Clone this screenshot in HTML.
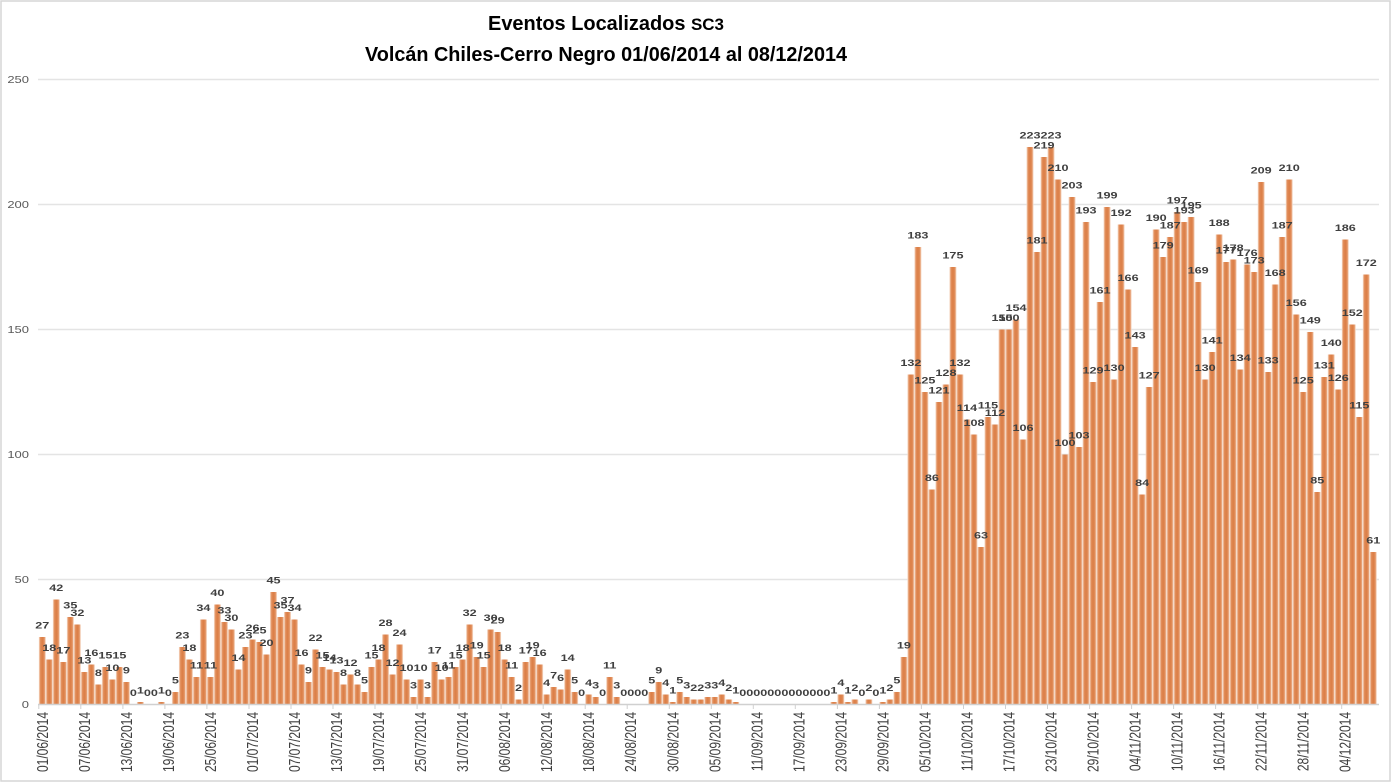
<!DOCTYPE html>
<html><head><meta charset="utf-8"><style>html,body{margin:0;padding:0;background:#fff}svg{display:block}</style></head>
<body>
<svg width="1392" height="784" viewBox="0 0 1392 784" xmlns="http://www.w3.org/2000/svg" font-family="'Liberation Sans', Arial, sans-serif">
<defs>
<linearGradient id="bg" x1="0" y1="0" x2="1" y2="0">
<stop offset="0" stop-color="#f8e4d6"/>
<stop offset="0.22" stop-color="#e28f5c"/>
<stop offset="0.5" stop-color="#db7e46"/>
<stop offset="0.78" stop-color="#e28f5c"/>
<stop offset="1" stop-color="#f8e4d6"/>
</linearGradient>
</defs>
<rect x="0" y="0" width="1392" height="784" fill="#fff"/>
<rect x="1" y="1" width="1389" height="780" fill="none" stroke="#d6d6d6" stroke-width="1.5"/>
<!-- title -->
<text x="606" y="30" text-anchor="middle" font-size="20" font-weight="bold" fill="#000" textLength="236" lengthAdjust="spacingAndGlyphs">Eventos Localizados <tspan font-size="17">SC3</tspan></text>
<text x="606" y="61" text-anchor="middle" font-size="20" font-weight="bold" fill="#000" textLength="482" lengthAdjust="spacingAndGlyphs">Volcán Chiles-Cerro Negro 01/06/2014 al 08/12/2014</text>
<!-- gridlines -->
<g stroke="#e4e4e4" stroke-width="1.5">
<line x1="38" y1="79.5" x2="1379" y2="79.5"/>
<line x1="38" y1="204.5" x2="1379" y2="204.5"/>
<line x1="38" y1="329.5" x2="1379" y2="329.5"/>
<line x1="38" y1="454.5" x2="1379" y2="454.5"/>
<line x1="38" y1="579.5" x2="1379" y2="579.5"/>
</g>
<!-- y labels -->
<g font-size="10" fill="#595959" text-anchor="end">
<text transform="translate(29,83.2) scale(1.3,1)">250</text>
<text transform="translate(29,208.2) scale(1.3,1)">200</text>
<text transform="translate(29,333.2) scale(1.3,1)">150</text>
<text transform="translate(29,458.2) scale(1.3,1)">100</text>
<text transform="translate(29,583.2) scale(1.3,1)">50</text>
<text transform="translate(29,708.2) scale(1.3,1)">0</text>
</g>
<!-- bars -->
<g transform="translate(38.7975,704.5) scale(7.005,-2.5)" fill="url(#bg)">
<rect x="0" width="1" height="27"/><rect x="1" width="1" height="18"/><rect x="2" width="1" height="42"/><rect x="3" width="1" height="17"/><rect x="4" width="1" height="35"/><rect x="5" width="1" height="32"/><rect x="6" width="1" height="13"/><rect x="7" width="1" height="16"/><rect x="8" width="1" height="8"/><rect x="9" width="1" height="15"/><rect x="10" width="1" height="10"/><rect x="11" width="1" height="15"/><rect x="12" width="1" height="9"/><rect x="14" width="1" height="1"/><rect x="17" width="1" height="1"/><rect x="19" width="1" height="5"/><rect x="20" width="1" height="23"/><rect x="21" width="1" height="18"/><rect x="22" width="1" height="11"/><rect x="23" width="1" height="34"/><rect x="24" width="1" height="11"/><rect x="25" width="1" height="40"/><rect x="26" width="1" height="33"/><rect x="27" width="1" height="30"/><rect x="28" width="1" height="14"/><rect x="29" width="1" height="23"/>
<rect x="30" width="1" height="26"/><rect x="31" width="1" height="25"/><rect x="32" width="1" height="20"/><rect x="33" width="1" height="45"/><rect x="34" width="1" height="35"/><rect x="35" width="1" height="37"/><rect x="36" width="1" height="34"/><rect x="37" width="1" height="16"/><rect x="38" width="1" height="9"/><rect x="39" width="1" height="22"/><rect x="40" width="1" height="15"/><rect x="41" width="1" height="14"/><rect x="42" width="1" height="13"/><rect x="43" width="1" height="8"/><rect x="44" width="1" height="12"/><rect x="45" width="1" height="8"/><rect x="46" width="1" height="5"/><rect x="47" width="1" height="15"/><rect x="48" width="1" height="18"/><rect x="49" width="1" height="28"/><rect x="50" width="1" height="12"/><rect x="51" width="1" height="24"/><rect x="52" width="1" height="10"/><rect x="53" width="1" height="3"/><rect x="54" width="1" height="10"/><rect x="55" width="1" height="3"/><rect x="56" width="1" height="17"/><rect x="57" width="1" height="10"/><rect x="58" width="1" height="11"/><rect x="59" width="1" height="15"/><rect x="60" width="1" height="18"/>
<rect x="61" width="1" height="32"/><rect x="62" width="1" height="19"/><rect x="63" width="1" height="15"/><rect x="64" width="1" height="30"/><rect x="65" width="1" height="29"/><rect x="66" width="1" height="18"/><rect x="67" width="1" height="11"/><rect x="68" width="1" height="2"/><rect x="69" width="1" height="17"/><rect x="70" width="1" height="19"/><rect x="71" width="1" height="16"/><rect x="72" width="1" height="4"/><rect x="73" width="1" height="7"/><rect x="74" width="1" height="6"/><rect x="75" width="1" height="14"/><rect x="76" width="1" height="5"/><rect x="78" width="1" height="4"/><rect x="79" width="1" height="3"/><rect x="81" width="1" height="11"/><rect x="82" width="1" height="3"/><rect x="87" width="1" height="5"/><rect x="88" width="1" height="9"/><rect x="89" width="1" height="4"/><rect x="90" width="1" height="1"/><rect x="91" width="1" height="5"/>
<rect x="92" width="1" height="3"/><rect x="93" width="1" height="2"/><rect x="94" width="1" height="2"/><rect x="95" width="1" height="3"/><rect x="96" width="1" height="3"/><rect x="97" width="1" height="4"/><rect x="98" width="1" height="2"/><rect x="99" width="1" height="1"/><rect x="113" width="1" height="1"/><rect x="114" width="1" height="4"/><rect x="115" width="1" height="1"/><rect x="116" width="1" height="2"/><rect x="118" width="1" height="2"/><rect x="120" width="1" height="1"/><rect x="121" width="1" height="2"/>
<rect x="122" width="1" height="5"/><rect x="123" width="1" height="19"/><rect x="124" width="1" height="132"/><rect x="125" width="1" height="183"/><rect x="126" width="1" height="125"/><rect x="127" width="1" height="86"/><rect x="128" width="1" height="121"/><rect x="129" width="1" height="128"/><rect x="130" width="1" height="175"/><rect x="131" width="1" height="132"/><rect x="132" width="1" height="114"/><rect x="133" width="1" height="108"/><rect x="134" width="1" height="63"/><rect x="135" width="1" height="115"/><rect x="136" width="1" height="112"/><rect x="137" width="1" height="150"/><rect x="138" width="1" height="150"/><rect x="139" width="1" height="154"/><rect x="140" width="1" height="106"/><rect x="141" width="1" height="223"/><rect x="142" width="1" height="181"/><rect x="143" width="1" height="219"/><rect x="144" width="1" height="223"/><rect x="145" width="1" height="210"/><rect x="146" width="1" height="100"/><rect x="147" width="1" height="203"/><rect x="148" width="1" height="103"/><rect x="149" width="1" height="193"/><rect x="150" width="1" height="129"/><rect x="151" width="1" height="161"/><rect x="152" width="1" height="199"/>
<rect x="153" width="1" height="130"/><rect x="154" width="1" height="192"/><rect x="155" width="1" height="166"/><rect x="156" width="1" height="143"/><rect x="157" width="1" height="84"/><rect x="158" width="1" height="127"/><rect x="159" width="1" height="190"/><rect x="160" width="1" height="179"/><rect x="161" width="1" height="187"/><rect x="162" width="1" height="197"/><rect x="163" width="1" height="193"/><rect x="164" width="1" height="195"/><rect x="165" width="1" height="169"/><rect x="166" width="1" height="130"/><rect x="167" width="1" height="141"/><rect x="168" width="1" height="188"/><rect x="169" width="1" height="177"/><rect x="170" width="1" height="178"/><rect x="171" width="1" height="134"/><rect x="172" width="1" height="176"/><rect x="173" width="1" height="173"/><rect x="174" width="1" height="209"/><rect x="175" width="1" height="133"/><rect x="176" width="1" height="168"/><rect x="177" width="1" height="187"/><rect x="178" width="1" height="210"/><rect x="179" width="1" height="156"/><rect x="180" width="1" height="125"/><rect x="181" width="1" height="149"/><rect x="182" width="1" height="85"/>
<rect x="183" width="1" height="131"/><rect x="184" width="1" height="140"/><rect x="185" width="1" height="126"/><rect x="186" width="1" height="186"/><rect x="187" width="1" height="152"/><rect x="188" width="1" height="115"/><rect x="189" width="1" height="172"/><rect x="190" width="1" height="61"/>
</g>
<!-- axis line -->
<line x1="38" y1="704.5" x2="1379" y2="704.5" stroke="#d0d0d0" stroke-width="1.5"/>
<!-- ticks -->
<g stroke="#d0d0d0" stroke-width="1">
<line x1="38.8" y1="704.5" x2="38.8" y2="709"/><line x1="80.8" y1="704.5" x2="80.8" y2="709"/><line x1="122.9" y1="704.5" x2="122.9" y2="709"/><line x1="164.9" y1="704.5" x2="164.9" y2="709"/><line x1="206.9" y1="704.5" x2="206.9" y2="709"/><line x1="249" y1="704.5" x2="249" y2="709"/><line x1="291" y1="704.5" x2="291" y2="709"/><line x1="333" y1="704.5" x2="333" y2="709"/><line x1="375" y1="704.5" x2="375" y2="709"/><line x1="417.1" y1="704.5" x2="417.1" y2="709"/><line x1="459.1" y1="704.5" x2="459.1" y2="709"/><line x1="501.1" y1="704.5" x2="501.1" y2="709"/><line x1="543.2" y1="704.5" x2="543.2" y2="709"/><line x1="585.2" y1="704.5" x2="585.2" y2="709"/><line x1="627.2" y1="704.5" x2="627.2" y2="709"/><line x1="669.3" y1="704.5" x2="669.3" y2="709"/><line x1="711.3" y1="704.5" x2="711.3" y2="709"/><line x1="753.3" y1="704.5" x2="753.3" y2="709"/><line x1="795.3" y1="704.5" x2="795.3" y2="709"/><line x1="837.4" y1="704.5" x2="837.4" y2="709"/><line x1="879.4" y1="704.5" x2="879.4" y2="709"/><line x1="921.4" y1="704.5" x2="921.4" y2="709"/><line x1="963.5" y1="704.5" x2="963.5" y2="709"/><line x1="1005.5" y1="704.5" x2="1005.5" y2="709"/><line x1="1047.5" y1="704.5" x2="1047.5" y2="709"/><line x1="1089.6" y1="704.5" x2="1089.6" y2="709"/><line x1="1131.6" y1="704.5" x2="1131.6" y2="709"/><line x1="1173.6" y1="704.5" x2="1173.6" y2="709"/><line x1="1215.6" y1="704.5" x2="1215.6" y2="709"/><line x1="1257.7" y1="704.5" x2="1257.7" y2="709"/><line x1="1299.7" y1="704.5" x2="1299.7" y2="709"/><line x1="1341.7" y1="704.5" x2="1341.7" y2="709"/>
</g>
<!-- data labels -->
<g transform="translate(42.3,696) scale(7.005,-2.5)" font-size="9.5" font-weight="bold" fill="#404040" text-anchor="middle">
<text transform="translate(0,27) scale(.18987,-.4)">27</text><text transform="translate(1,18) scale(.18987,-.4)">18</text><text transform="translate(2,42) scale(.18987,-.4)">42</text><text transform="translate(3,17) scale(.18987,-.4)">17</text><text transform="translate(4,35) scale(.18987,-.4)">35</text><text transform="translate(5,32) scale(.18987,-.4)">32</text><text transform="translate(6,13) scale(.18987,-.4)">13</text><text transform="translate(7,16) scale(.18987,-.4)">16</text><text transform="translate(8,8) scale(.18987,-.4)">8</text><text transform="translate(9,15) scale(.18987,-.4)">15</text><text transform="translate(10,10) scale(.18987,-.4)">10</text><text transform="translate(11,15) scale(.18987,-.4)">15</text><text transform="translate(12,9) scale(.18987,-.4)">9</text><text transform="translate(13,0) scale(.18987,-.4)">0</text><text transform="translate(14,1) scale(.18987,-.4)">1</text><text transform="translate(15,0) scale(.18987,-.4)">0</text><text transform="translate(16,0) scale(.18987,-.4)">0</text><text transform="translate(17,1) scale(.18987,-.4)">1</text><text transform="translate(18,0) scale(.18987,-.4)">0</text><text transform="translate(19,5) scale(.18987,-.4)">5</text><text transform="translate(20,23) scale(.18987,-.4)">23</text><text transform="translate(21,18) scale(.18987,-.4)">18</text><text transform="translate(22,11) scale(.18987,-.4)">11</text><text transform="translate(23,34) scale(.18987,-.4)">34</text><text transform="translate(24,11) scale(.18987,-.4)">11</text><text transform="translate(25,40) scale(.18987,-.4)">40</text><text transform="translate(26,33) scale(.18987,-.4)">33</text><text transform="translate(27,30) scale(.18987,-.4)">30</text><text transform="translate(28,14) scale(.18987,-.4)">14</text><text transform="translate(29,23) scale(.18987,-.4)">23</text>
<text transform="translate(30,26) scale(.18987,-.4)">26</text><text transform="translate(31,25) scale(.18987,-.4)">25</text><text transform="translate(32,20) scale(.18987,-.4)">20</text><text transform="translate(33,45) scale(.18987,-.4)">45</text><text transform="translate(34,35) scale(.18987,-.4)">35</text><text transform="translate(35,37) scale(.18987,-.4)">37</text><text transform="translate(36,34) scale(.18987,-.4)">34</text><text transform="translate(37,16) scale(.18987,-.4)">16</text><text transform="translate(38,9) scale(.18987,-.4)">9</text><text transform="translate(39,22) scale(.18987,-.4)">22</text><text transform="translate(40,15) scale(.18987,-.4)">15</text><text transform="translate(41,14) scale(.18987,-.4)">14</text><text transform="translate(42,13) scale(.18987,-.4)">13</text><text transform="translate(43,8) scale(.18987,-.4)">8</text><text transform="translate(44,12) scale(.18987,-.4)">12</text><text transform="translate(45,8) scale(.18987,-.4)">8</text><text transform="translate(46,5) scale(.18987,-.4)">5</text><text transform="translate(47,15) scale(.18987,-.4)">15</text><text transform="translate(48,18) scale(.18987,-.4)">18</text><text transform="translate(49,28) scale(.18987,-.4)">28</text><text transform="translate(50,12) scale(.18987,-.4)">12</text><text transform="translate(51,24) scale(.18987,-.4)">24</text><text transform="translate(52,10) scale(.18987,-.4)">10</text><text transform="translate(53,3) scale(.18987,-.4)">3</text><text transform="translate(54,10) scale(.18987,-.4)">10</text><text transform="translate(55,3) scale(.18987,-.4)">3</text><text transform="translate(56,17) scale(.18987,-.4)">17</text><text transform="translate(57,10) scale(.18987,-.4)">10</text><text transform="translate(58,11) scale(.18987,-.4)">11</text><text transform="translate(59,15) scale(.18987,-.4)">15</text><text transform="translate(60,18) scale(.18987,-.4)">18</text>
<text transform="translate(61,32) scale(.18987,-.4)">32</text><text transform="translate(62,19) scale(.18987,-.4)">19</text><text transform="translate(63,15) scale(.18987,-.4)">15</text><text transform="translate(64,30) scale(.18987,-.4)">30</text><text transform="translate(65,29) scale(.18987,-.4)">29</text><text transform="translate(66,18) scale(.18987,-.4)">18</text><text transform="translate(67,11) scale(.18987,-.4)">11</text><text transform="translate(68,2) scale(.18987,-.4)">2</text><text transform="translate(69,17) scale(.18987,-.4)">17</text><text transform="translate(70,19) scale(.18987,-.4)">19</text><text transform="translate(71,16) scale(.18987,-.4)">16</text><text transform="translate(72,4) scale(.18987,-.4)">4</text><text transform="translate(73,7) scale(.18987,-.4)">7</text><text transform="translate(74,6) scale(.18987,-.4)">6</text><text transform="translate(75,14) scale(.18987,-.4)">14</text><text transform="translate(76,5) scale(.18987,-.4)">5</text><text transform="translate(77,0) scale(.18987,-.4)">0</text><text transform="translate(78,4) scale(.18987,-.4)">4</text><text transform="translate(79,3) scale(.18987,-.4)">3</text><text transform="translate(80,0) scale(.18987,-.4)">0</text><text transform="translate(81,11) scale(.18987,-.4)">11</text><text transform="translate(82,3) scale(.18987,-.4)">3</text><text transform="translate(83,0) scale(.18987,-.4)">0</text><text transform="translate(84,0) scale(.18987,-.4)">0</text><text transform="translate(85,0) scale(.18987,-.4)">0</text><text transform="translate(86,0) scale(.18987,-.4)">0</text><text transform="translate(87,5) scale(.18987,-.4)">5</text><text transform="translate(88,9) scale(.18987,-.4)">9</text><text transform="translate(89,4) scale(.18987,-.4)">4</text><text transform="translate(90,1) scale(.18987,-.4)">1</text><text transform="translate(91,5) scale(.18987,-.4)">5</text>
<text transform="translate(92,3) scale(.18987,-.4)">3</text><text transform="translate(93,2) scale(.18987,-.4)">2</text><text transform="translate(94,2) scale(.18987,-.4)">2</text><text transform="translate(95,3) scale(.18987,-.4)">3</text><text transform="translate(96,3) scale(.18987,-.4)">3</text><text transform="translate(97,4) scale(.18987,-.4)">4</text><text transform="translate(98,2) scale(.18987,-.4)">2</text><text transform="translate(99,1) scale(.18987,-.4)">1</text><text transform="translate(100,0) scale(.18987,-.4)">0</text><text transform="translate(101,0) scale(.18987,-.4)">0</text><text transform="translate(102,0) scale(.18987,-.4)">0</text><text transform="translate(103,0) scale(.18987,-.4)">0</text><text transform="translate(104,0) scale(.18987,-.4)">0</text><text transform="translate(105,0) scale(.18987,-.4)">0</text><text transform="translate(106,0) scale(.18987,-.4)">0</text><text transform="translate(107,0) scale(.18987,-.4)">0</text><text transform="translate(108,0) scale(.18987,-.4)">0</text><text transform="translate(109,0) scale(.18987,-.4)">0</text><text transform="translate(110,0) scale(.18987,-.4)">0</text><text transform="translate(111,0) scale(.18987,-.4)">0</text><text transform="translate(112,0) scale(.18987,-.4)">0</text><text transform="translate(113,1) scale(.18987,-.4)">1</text><text transform="translate(114,4) scale(.18987,-.4)">4</text><text transform="translate(115,1) scale(.18987,-.4)">1</text><text transform="translate(116,2) scale(.18987,-.4)">2</text><text transform="translate(117,0) scale(.18987,-.4)">0</text><text transform="translate(118,2) scale(.18987,-.4)">2</text><text transform="translate(119,0) scale(.18987,-.4)">0</text><text transform="translate(120,1) scale(.18987,-.4)">1</text><text transform="translate(121,2) scale(.18987,-.4)">2</text>
<text transform="translate(122,5) scale(.18987,-.4)">5</text><text transform="translate(123,19) scale(.18987,-.4)">19</text><text transform="translate(124,132) scale(.18987,-.4)">132</text><text transform="translate(125,183) scale(.18987,-.4)">183</text><text transform="translate(126,125) scale(.18987,-.4)">125</text><text transform="translate(127,86) scale(.18987,-.4)">86</text><text transform="translate(128,121) scale(.18987,-.4)">121</text><text transform="translate(129,128) scale(.18987,-.4)">128</text><text transform="translate(130,175) scale(.18987,-.4)">175</text><text transform="translate(131,132) scale(.18987,-.4)">132</text><text transform="translate(132,114) scale(.18987,-.4)">114</text><text transform="translate(133,108) scale(.18987,-.4)">108</text><text transform="translate(134,63) scale(.18987,-.4)">63</text><text transform="translate(135,115) scale(.18987,-.4)">115</text><text transform="translate(136,112) scale(.18987,-.4)">112</text><text transform="translate(137,150) scale(.18987,-.4)">150</text><text transform="translate(138,150) scale(.18987,-.4)">150</text><text transform="translate(139,154) scale(.18987,-.4)">154</text><text transform="translate(140,106) scale(.18987,-.4)">106</text><text transform="translate(141,223) scale(.18987,-.4)">223</text><text transform="translate(142,181) scale(.18987,-.4)">181</text><text transform="translate(143,219) scale(.18987,-.4)">219</text><text transform="translate(144,223) scale(.18987,-.4)">223</text><text transform="translate(145,210) scale(.18987,-.4)">210</text><text transform="translate(146,100) scale(.18987,-.4)">100</text><text transform="translate(147,203) scale(.18987,-.4)">203</text><text transform="translate(148,103) scale(.18987,-.4)">103</text><text transform="translate(149,193) scale(.18987,-.4)">193</text><text transform="translate(150,129) scale(.18987,-.4)">129</text><text transform="translate(151,161) scale(.18987,-.4)">161</text><text transform="translate(152,199) scale(.18987,-.4)">199</text>
<text transform="translate(153,130) scale(.18987,-.4)">130</text><text transform="translate(154,192) scale(.18987,-.4)">192</text><text transform="translate(155,166) scale(.18987,-.4)">166</text><text transform="translate(156,143) scale(.18987,-.4)">143</text><text transform="translate(157,84) scale(.18987,-.4)">84</text><text transform="translate(158,127) scale(.18987,-.4)">127</text><text transform="translate(159,190) scale(.18987,-.4)">190</text><text transform="translate(160,179) scale(.18987,-.4)">179</text><text transform="translate(161,187) scale(.18987,-.4)">187</text><text transform="translate(162,197) scale(.18987,-.4)">197</text><text transform="translate(163,193) scale(.18987,-.4)">193</text><text transform="translate(164,195) scale(.18987,-.4)">195</text><text transform="translate(165,169) scale(.18987,-.4)">169</text><text transform="translate(166,130) scale(.18987,-.4)">130</text><text transform="translate(167,141) scale(.18987,-.4)">141</text><text transform="translate(168,188) scale(.18987,-.4)">188</text><text transform="translate(169,177) scale(.18987,-.4)">177</text><text transform="translate(170,178) scale(.18987,-.4)">178</text><text transform="translate(171,134) scale(.18987,-.4)">134</text><text transform="translate(172,176) scale(.18987,-.4)">176</text><text transform="translate(173,173) scale(.18987,-.4)">173</text><text transform="translate(174,209) scale(.18987,-.4)">209</text><text transform="translate(175,133) scale(.18987,-.4)">133</text><text transform="translate(176,168) scale(.18987,-.4)">168</text><text transform="translate(177,187) scale(.18987,-.4)">187</text><text transform="translate(178,210) scale(.18987,-.4)">210</text><text transform="translate(179,156) scale(.18987,-.4)">156</text><text transform="translate(180,125) scale(.18987,-.4)">125</text><text transform="translate(181,149) scale(.18987,-.4)">149</text><text transform="translate(182,85) scale(.18987,-.4)">85</text>
<text transform="translate(183,131) scale(.18987,-.4)">131</text><text transform="translate(184,140) scale(.18987,-.4)">140</text><text transform="translate(185,126) scale(.18987,-.4)">126</text><text transform="translate(186,186) scale(.18987,-.4)">186</text><text transform="translate(187,152) scale(.18987,-.4)">152</text><text transform="translate(188,115) scale(.18987,-.4)">115</text><text transform="translate(189,172) scale(.18987,-.4)">172</text><text transform="translate(190,61) scale(.18987,-.4)">61</text>
</g>
<!-- x labels -->
<g font-size="12" fill="#404040" text-anchor="end">
<text transform="translate(47.8,712) rotate(-90) scale(1,1.33)">01/06/2014</text>
<text transform="translate(89.8,712) rotate(-90) scale(1,1.33)">07/06/2014</text>
<text transform="translate(131.9,712) rotate(-90) scale(1,1.33)">13/06/2014</text>
<text transform="translate(173.9,712) rotate(-90) scale(1,1.33)">19/06/2014</text>
<text transform="translate(215.9,712) rotate(-90) scale(1,1.33)">25/06/2014</text>
<text transform="translate(258,712) rotate(-90) scale(1,1.33)">01/07/2014</text>
<text transform="translate(300,712) rotate(-90) scale(1,1.33)">07/07/2014</text>
<text transform="translate(342,712) rotate(-90) scale(1,1.33)">13/07/2014</text>
<text transform="translate(384,712) rotate(-90) scale(1,1.33)">19/07/2014</text>
<text transform="translate(426.1,712) rotate(-90) scale(1,1.33)">25/07/2014</text>
<text transform="translate(468.1,712) rotate(-90) scale(1,1.33)">31/07/2014</text>
<text transform="translate(510.1,712) rotate(-90) scale(1,1.33)">06/08/2014</text>
<text transform="translate(552.2,712) rotate(-90) scale(1,1.33)">12/08/2014</text>
<text transform="translate(594.2,712) rotate(-90) scale(1,1.33)">18/08/2014</text>
<text transform="translate(636.2,712) rotate(-90) scale(1,1.33)">24/08/2014</text>
<text transform="translate(678.3,712) rotate(-90) scale(1,1.33)">30/08/2014</text>
<text transform="translate(720.3,712) rotate(-90) scale(1,1.33)">05/09/2014</text>
<text transform="translate(762.3,712) rotate(-90) scale(1,1.33)">11/09/2014</text>
<text transform="translate(804.3,712) rotate(-90) scale(1,1.33)">17/09/2014</text>
<text transform="translate(846.4,712) rotate(-90) scale(1,1.33)">23/09/2014</text>
<text transform="translate(888.4,712) rotate(-90) scale(1,1.33)">29/09/2014</text>
<text transform="translate(930.4,712) rotate(-90) scale(1,1.33)">05/10/2014</text>
<text transform="translate(972.5,712) rotate(-90) scale(1,1.33)">11/10/2014</text>
<text transform="translate(1014.5,712) rotate(-90) scale(1,1.33)">17/10/2014</text>
<text transform="translate(1056.5,712) rotate(-90) scale(1,1.33)">23/10/2014</text>
<text transform="translate(1098.6,712) rotate(-90) scale(1,1.33)">29/10/2014</text>
<text transform="translate(1140.6,712) rotate(-90) scale(1,1.33)">04/11/2014</text>
<text transform="translate(1182.6,712) rotate(-90) scale(1,1.33)">10/11/2014</text>
<text transform="translate(1224.6,712) rotate(-90) scale(1,1.33)">16/11/2014</text>
<text transform="translate(1266.7,712) rotate(-90) scale(1,1.33)">22/11/2014</text>
<text transform="translate(1308.7,712) rotate(-90) scale(1,1.33)">28/11/2014</text>
<text transform="translate(1350.7,712) rotate(-90) scale(1,1.33)">04/12/2014</text>
</g>
</svg>
</body></html>
